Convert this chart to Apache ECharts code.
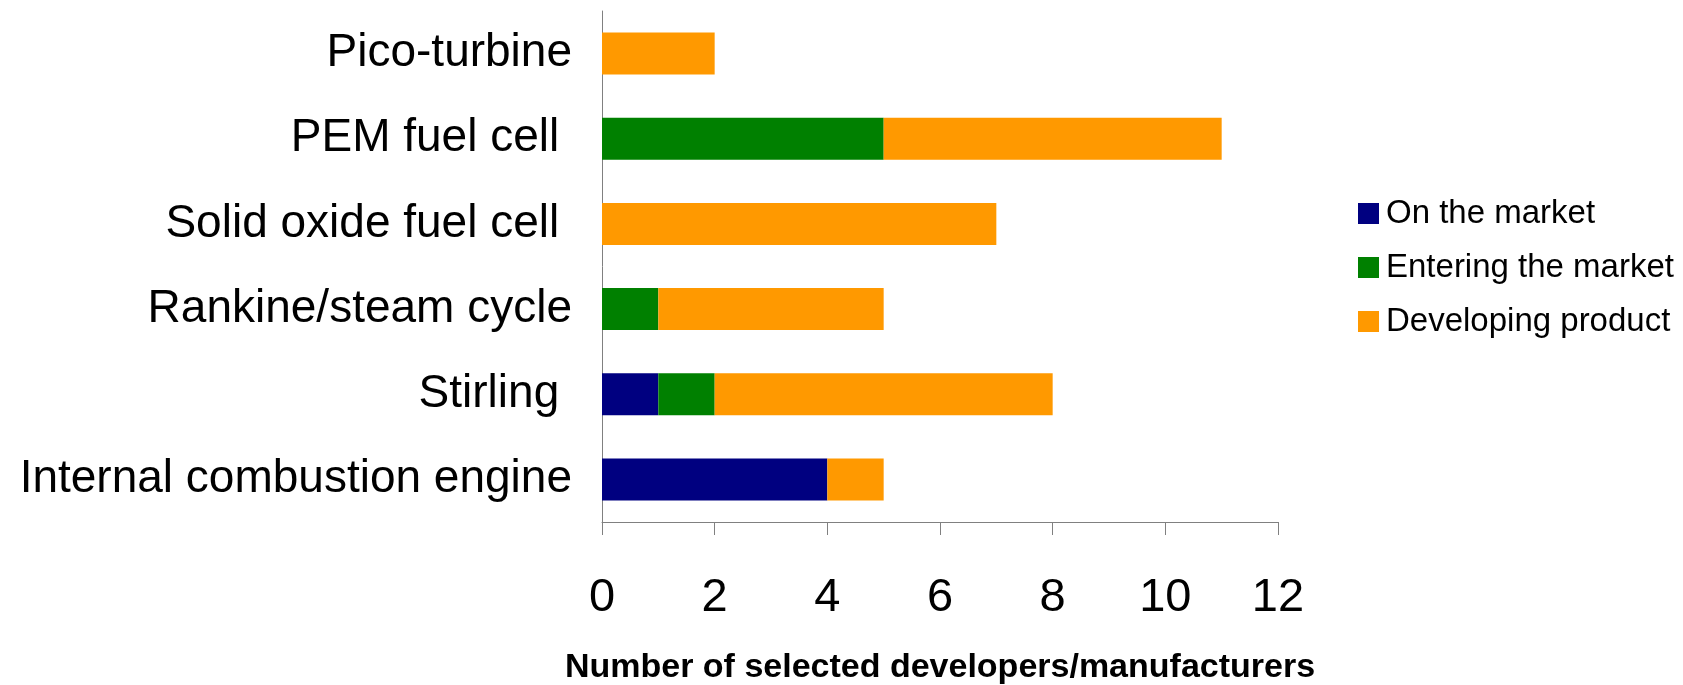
<!DOCTYPE html>
<html>
<head>
<meta charset="utf-8">
<script src="https://cdn.jsdelivr.net/npm/echarts@6/dist/echarts.min.js"></script>
<style>
  html, body { margin: 0; padding: 0; background: #fff; }
  #chart { width: 1683px; height: 685px; }
</style>
</head>
<body>
<div id="chart"></div>
<script>
// categories, bottom to top
const categories = ['Internal combustion engine', 'Stirling ', 'Rankine/steam cycle', 'Solid oxide fuel cell ', 'PEM fuel cell ', 'Pico-turbine']
const onMarket = [4, 1, 0, 0, 0, 0]
const entering = [0, 1, 1, 0, 5, 0]
const developing = [1, 6, 4, 7, 6, 2]
const seriesNames = ['On the market', 'Entering the market', 'Developing product']
const xTicks = [0, 2, 4, 6, 8, 10, 12]

const font = '"Liberation Sans", Arial, sans-serif'
const chart = echarts.init(document.getElementById('chart'))

const bar = (name, data, color) => ({
  name: name,
  type: 'bar',
  stack: 'total',
  barWidth: 42,
  itemStyle: {color: color},
  data: data
})

chart.setOption({
  animation: false,
  textStyle: {fontFamily: font},
  grid: {left: 602, right: 405, top: 11, bottom: 163, outerBoundsMode: 'none'},
  legend: {
    orient: 'vertical',
    left: 1353,
    top: 192,
    icon: 'rect',
    itemWidth: 21,
    itemHeight: 21,
    itemGap: 21,
    textStyle: {fontSize: 33, color: '#000', fontFamily: font, padding: [0, 0, 0, 2]},
    data: seriesNames
  },
  xAxis: {
    type: 'value',
    min: xTicks[0],
    max: xTicks[xTicks.length - 1],
    interval: 2,
    name: 'Number of selected developers/manufacturers',
    nameLocation: 'middle',
    nameGap: 129,
    nameTextStyle: {fontSize: 34, fontWeight: 'bold', color: '#000', fontFamily: font},
    axisLine: {show: true, lineStyle: {color: '#808080', width: 1}},
    axisTick: {show: true, length: 13, lineStyle: {color: '#808080'}},
    axisLabel: {fontSize: 47, color: '#000', margin: 53, fontFamily: font},
    splitLine: {show: false}
  },
  yAxis: {
    type: 'category',
    data: categories,
    axisLine: {show: true, lineStyle: {color: '#808080', width: 1}},
    axisTick: {show: false},
    axisLabel: {fontSize: 46, color: '#000', margin: 30, fontFamily: font}
  },
  series: [
    bar(seriesNames[0], onMarket, '#000080'),
    bar(seriesNames[1], entering, '#008000'),
    bar(seriesNames[2], developing, '#FF9900')
  ]
})
</script>
</body>
</html>
